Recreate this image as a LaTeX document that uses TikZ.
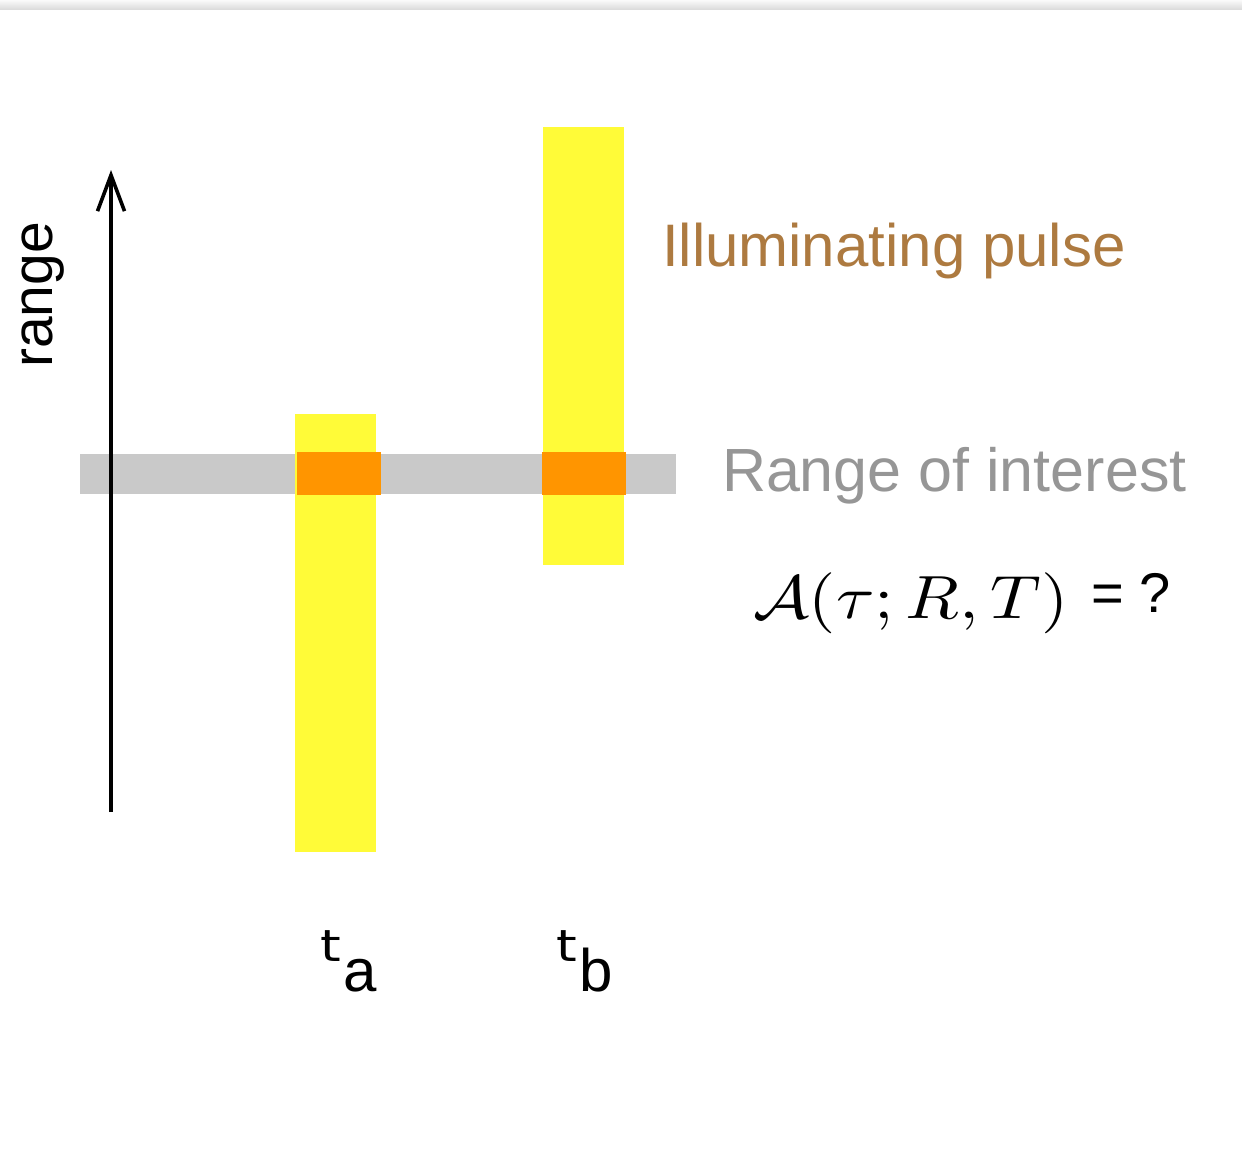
\documentclass[tikz,border=0pt]{standalone}
\usepackage{fontspec}
\setmainfont{Liberation Sans}
\newfontfamily\tfont{DejaVu Sans}
\usetikzlibrary{arrows.meta}
\definecolor{pulseyellow}{RGB}{255,251,56}
\definecolor{overlaporange}{RGB}{255,149,0}
\definecolor{bandgray}{RGB}{201,201,201}
\definecolor{pulsebrown}{RGB}{173,122,64}
\definecolor{labelgray}{RGB}{150,150,150}
\tikzset{
  lbl/.style={inner sep=0pt, outer sep=0pt, anchor=base west},
  axisarrow/.style={line width=1.8pt, -{Straight Barb[length=18pt,width=13.5pt]}},
}
\newcommand{\tsub}[1]{{\tfont\fontsize{22}{22}\selectfont\scalebox{1.2}[1]{t}}\kern1.5pt\raisebox{-15pt}{\fontsize{30}{30}\selectfont #1}}
\begin{document}
\begin{tikzpicture}[x=0.5pt,y=-0.5pt]
\useasboundingbox (0,0) rectangle (1242,1172);
% top gradient strip
\shade[top color=black!2, bottom color=black!15] (0,0) rectangle (1242,10);
% range of interest band
\fill[bandgray] (80,454) rectangle (676,494);
% pulses
\fill[pulseyellow] (295,414) rectangle (376,852);
\fill[pulseyellow] (543,127) rectangle (624,565);
% overlaps
\fill[overlaporange] (297,452) rectangle (381,495);
\fill[overlaporange] (542,452) rectangle (626,495);
% axis
\coordinate (axisfoot) at (111,812);
\coordinate (axishead) at (111,170);
\draw[axisarrow] (axisfoot) -- (axishead);
% labels
\node[inner sep=0pt, anchor=base, rotate=90] (rangelbl) at (52,295)
  {\fontsize{28.5}{28.5}\selectfont range};
\node[lbl, text=pulsebrown] (pulselbl) at (662,266)
  {\fontsize{30}{30}\selectfont Illuminating pulse};
\node[lbl, text=labelgray] (roilbl) at (722,491)
  {\fontsize{30.5}{30.5}\selectfont Range of interest};
\node[lbl] (formula) at (753,618)
  {\scalebox{3.5}[3.05]{$\mathcal{A}(\tau; R, T)$}};
\node[lbl] (eqq) at (1091,612)
  {\fontsize{28}{28}\selectfont = ?};
\node[lbl] (talbl) at (320,961) {\tsub{a}};
\node[lbl] (tblbl) at (556,961) {\tsub{b}};
\end{tikzpicture}
\end{document}
